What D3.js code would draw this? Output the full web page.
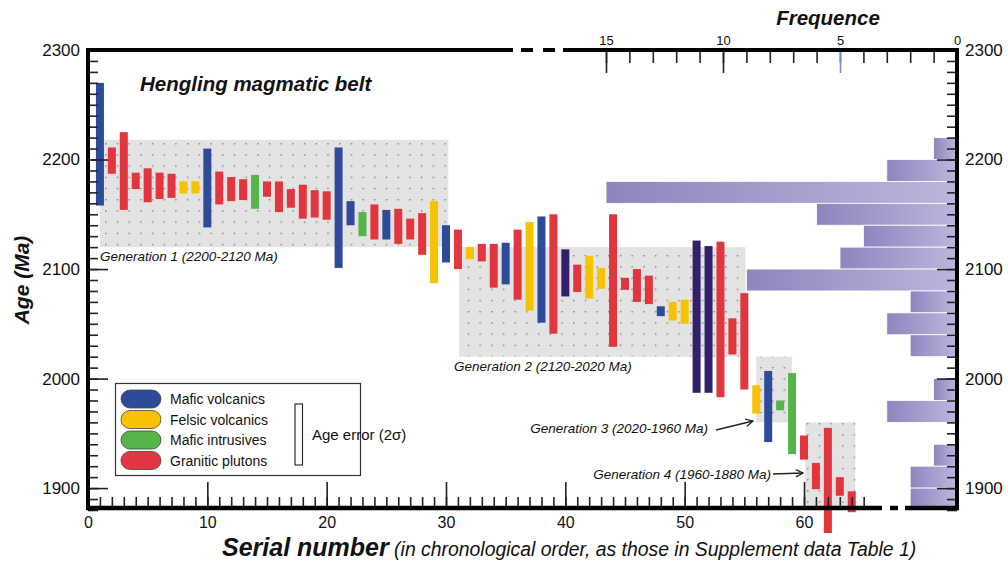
<!DOCTYPE html>
<html>
<head>
<meta charset="utf-8">
<script src="https://cdn.jsdelivr.net/npm/d3@7"></script>
<style>
  body { margin: 0; background: #fff; }
  svg text { font-family: "Liberation Sans", Arial, Helvetica, sans-serif; fill: #111; }
</style>
</head>
<body>
<svg id="chart" width="1008" height="561"></svg>
<script>
// ---- Zircon U-Pb ages, Hengling magmatic belt (serial order as in Supplement Table 1) ----
const serial = [1,2,3,4,5,6,7,8,9,10,11,12,13,14,15,16,17,18,19,20,21,22,23,24,25,26,27,28,29,30,31,32,
                33,34,35,36,37,38,39,40,41,42,43,44,45,46,47,48,49,50,51,52,53,54,55,56,57,58,59,60,61,62,63,64];
// upper / lower limit of each age (2 sigma), Ma
const ageMax = [2270,2211,2225,2188,2192,2188,2187,2180,2180,2210,2189,2184,2182,2186,2180,2180,
                2173,2177,2172,2171,2211,2162,2152,2159,2154,2155,2146,2151,2162,2140,2136,2120,
                2123,2123,2124,2136,2143,2148,2150,2118,2104,2112,2101,2150,2092,2100,2094,2066,
                2070,2072,2126,2121,2125,2055,2078,1994,2007,1980,2005,1948,1923,1955,1910,1897];
const ageMin = [2158,2187,2154,2173,2161,2164,2165,2169,2169,2138,2159,2162,2163,2155,2166,2152,
                2156,2146,2147,2145,2101,2140,2130,2127,2127,2123,2127,2113,2087,2106,2100,2109,
                2107,2083,2086,2072,2062,2051,2041,2075,2079,2073,2082,2029,2081,2070,2068,2057,
                2053,2050,1987,1987,1983,2022,1990,1968,1942,1971,1931,1926,1899,1859,1893,1878];
// MV mafic volcanics, MD mafic volcanics (dark), FV felsic volcanics, MI mafic intrusives, GP granitic plutons
const rockType = ["MV","GP","GP","GP","GP","GP","GP","FV","FV","MV","GP","GP","GP","MI","GP","GP",
                  "GP","GP","GP","GP","MV","MV","MI","GP","MV","GP","GP","GP","FV","MV","GP","FV",
                  "GP","GP","MV","GP","FV","MV","GP","MD","GP","FV","FV","GP","GP","GP","GP","MV",
                  "FV","FV","MD","MD","GP","GP","GP","FV","MV","MI","MI","GP","GP","GP","GP","GP"];

// ---- age histogram (20 Ma bins) ----
const binStart = [2200,2180,2160,2140,2120,2100,2080,2060,2040,2020,2000,1980,1960,1940,1920,1900,1880];
const binCount = [1,3,15,6,4,5,9,2,3,2,0,1,3,0,1,2,2];
const binWidth = 20;

// ---- axes ----
const ageTicks = [1900,2000,2100,2200,2300];
const serialTicks = [0,10,20,30,40,50,60];
const freqTicks = [0,5,10,15];

// ---- generations ----
const genLabels = ["Generation 1 (2200-2120 Ma)","Generation 2 (2120-2020 Ma)",
                   "Generation 3 (2020-1960 Ma)","Generation 4 (1960-1880 Ma)"];
const genSerialFrom = [1.0, 31.1, 56.0, 60.1];
const genSerialTo   = [30.2, 55.1, 59.0, 64.3];
const genAgeLow  = [2120, 2020, 1960, 1880];
const genAgeHigh = [2218, 2120, 2020, 1960];

// ---- legend ----
const legendKeys = ["MV","FV","MI","GP"];
const legendLabels = ["Mafic volcanics","Felsic  volcanics","Mafic intrusives","Granitic plutons"];

const colors = { MV:"#2e4a9b", MD:"#33206b", FV:"#f7c300", MI:"#55b44a", GP:"#e1363f" };

const svg = d3.select("#chart");
const L = 88, R = 957, T = 50, B = 508;

const x = d3.scaleLinear().domain([0, 60]).range([L, 804]);
const y = d3.scaleLinear().domain([1880, 2300]).range([510, T]);
const f = d3.scaleLinear().domain([0, 15]).range([R, 606]);

const defs = svg.append("defs");
const pat = defs.append("pattern").attr("id","dots").attr("patternUnits","userSpaceOnUse")
  .attr("x", 105).attr("y", 143).attr("width", 11.7).attr("height", 11.2);
pat.append("rect").attr("width", 11.7).attr("height", 11.2).attr("fill", "#e3e3e3");
pat.append("circle").attr("cx", 0.8).attr("cy", 0.8).attr("r", 0.75).attr("fill", "#6a6a6a");

const grad = defs.append("linearGradient").attr("id","histGrad")
  .attr("x1","0").attr("x2","1").attr("y1","0").attr("y2","0");
grad.append("stop").attr("offset","0").attr("stop-color","#8d86be");
grad.append("stop").attr("offset","1").attr("stop-color","#bcb6dd");

defs.append("marker").attr("id","arrow").attr("viewBox","0 0 10 10")
  .attr("refX", 9).attr("refY", 5).attr("markerWidth", 9).attr("markerHeight", 9)
  .attr("orient","auto").attr("markerUnits","userSpaceOnUse")
  .append("path").attr("d","M1,1 L9,5 L1,9").attr("fill","none").attr("stroke","#222").attr("stroke-width",1.4);

// generation boxes
svg.append("g").selectAll("rect").data(genLabels).join("rect")
  .attr("x", (d,i) => x(genSerialFrom[i]))
  .attr("width", (d,i) => x(genSerialTo[i]) - x(genSerialFrom[i]))
  .attr("y", (d,i) => y(genAgeHigh[i]))
  .attr("height", (d,i) => Math.min(y(genAgeLow[i]), B) - y(genAgeHigh[i]))
  .attr("fill","url(#dots)");

// histogram
svg.append("g").selectAll("rect").data(binStart).join("rect")
  .filter((d,i) => binCount[i] > 0)
  .attr("x", (d) => f(binCount[binStart.indexOf(d)]))
  .attr("width", d => R - f(binCount[binStart.indexOf(d)]))
  .attr("y", d => y(d + binWidth))
  .attr("height", d => Math.min(y(d), B) - y(d + binWidth))
  .attr("fill","url(#histGrad)")
  .attr("stroke","#fff").attr("stroke-width",0.8);

// age bars
const bw = 8;
svg.append("g").selectAll("rect").data(serial).join("rect")
  .attr("x", (d) => x(d) - bw/2)
  .attr("width", bw)
  .attr("y", (d,i) => y(ageMax[i]))
  .attr("height", (d,i) => y(ageMin[i]) - y(ageMax[i]))
  .attr("fill", (d,i) => colors[rockType[i]]);

// ---- axes ----
function styleAxis(g) {
  g.select(".domain").remove();
  g.selectAll(".tick line").attr("stroke","#222").attr("stroke-width",1.6);
  g.selectAll(".tick text").attr("fill","#111");
}
// left
svg.append("g").attr("transform",`translate(${L},0)`)
  .call(d3.axisLeft(y).tickValues(d3.range(1880, 2301, 10)).tickSize(-10).tickFormat(""))
  .call(styleAxis);
svg.append("g").attr("transform",`translate(${L},0)`)
  .call(d3.axisLeft(y).tickValues(ageTicks).tickSize(-20).tickPadding(8).tickFormat(d3.format("d")))
  .call(styleAxis)
  .call(g => g.selectAll("text").style("font-size","17px"));
// right
svg.append("g").attr("transform",`translate(${R},0)`)
  .call(d3.axisRight(y).tickValues(d3.range(1880, 2301, 10)).tickSize(-10).tickFormat(""))
  .call(styleAxis);
svg.append("g").attr("transform",`translate(${R},0)`)
  .call(d3.axisRight(y).tickValues(ageTicks).tickSize(-20).tickPadding(8).tickFormat(d3.format("d")))
  .call(styleAxis)
  .call(g => g.selectAll("text").style("font-size","17px"));
// bottom
svg.append("g").attr("transform",`translate(0,${B})`)
  .call(d3.axisBottom(x).tickValues(d3.range(0, 66, 1)).tickSize(-11).tickFormat(""))
  .call(styleAxis);
svg.append("g").attr("transform",`translate(0,${B})`)
  .call(d3.axisBottom(x).tickValues(serialTicks).tickSize(-26).tickPadding(9))
  .call(styleAxis)
  .call(g => g.selectAll("text").style("font-size","16px"));
// top (frequency)
svg.append("g").attr("transform",`translate(0,${T})`)
  .call(d3.axisTop(f).tickValues(d3.range(0, 16, 1)).tickSize(-13).tickFormat(""))
  .call(styleAxis);
svg.append("g").attr("transform",`translate(0,${T})`)
  .call(d3.axisTop(f).tickValues(freqTicks).tickSize(-23).tickPadding(5))
  .call(styleAxis)
  .call(g => g.selectAll("text").style("font-size","13px"))
  .call(g => g.selectAll(".tick").filter(d => d === 5).select("line").attr("stroke","#6f93cf"));

// frame lines (broken on top and bottom right)
const frame = svg.append("g").attr("stroke","#000").attr("stroke-width",4).attr("fill","none");
frame.append("line").attr("x1",L).attr("x2",L).attr("y1",T-2).attr("y2",B+2);
frame.append("line").attr("x1",R).attr("x2",R).attr("y1",T-2).attr("y2",B+2);
frame.append("line").attr("x1",L-2).attr("x2",513).attr("y1",T).attr("y2",T);
frame.append("line").attr("x1",521).attr("x2",533).attr("y1",T).attr("y2",T);
frame.append("line").attr("x1",543).attr("x2",555).attr("y1",T).attr("y2",T);
frame.append("line").attr("x1",563).attr("x2",R+2).attr("y1",T).attr("y2",T);
frame.append("line").attr("x1",L-2).attr("x2",882).attr("y1",B).attr("y2",B).attr("stroke-width",4.5);
frame.append("line").attr("x1",890).attr("x2",898).attr("y1",B).attr("y2",B).attr("stroke-width",4.5);
frame.append("line").attr("x1",905).attr("x2",R+2).attr("y1",B).attr("y2",B).attr("stroke-width",4.5);

// ---- titles ----
svg.append("text").attr("x",140).attr("y",91)
  .attr("font-weight","bold").attr("font-style","italic").style("font-size","20.5px")
  .text("Hengling magmatic belt");
svg.append("text").attr("x",828).attr("y",25).attr("text-anchor","middle")
  .attr("font-weight","bold").attr("font-style","italic").style("font-size","20.5px")
  .text("Frequence");
svg.append("text").attr("transform","translate(29,280) rotate(-90)").attr("text-anchor","middle")
  .attr("font-weight","bold").attr("font-style","italic").style("font-size","21px")
  .text("Age (Ma)");
const xt = svg.append("text").attr("x",222).attr("y",556);
xt.append("tspan").attr("font-weight","bold").attr("font-style","italic").style("font-size","25px")
  .text("Serial number");
xt.append("tspan").attr("font-style","italic").style("font-size","19.4px")
  .text(" (in chronological order, as those in Supplement data Table 1)");

// ---- generation labels ----
const gl = svg.append("g").attr("font-style","italic").style("font-size","13.5px");
gl.append("text").attr("x",100).attr("y",261).text(genLabels[0]);
gl.append("text").attr("x",454).attr("y",371).text(genLabels[1]);
gl.append("text").attr("x",708).attr("y",433).attr("text-anchor","end").text(genLabels[2]);
gl.append("text").attr("x",771).attr("y",479).attr("text-anchor","end").text(genLabels[3]);
svg.append("line").attr("x1",716).attr("y1",430).attr("x2",753).attr("y2",421)
  .attr("stroke","#222").attr("stroke-width",1.4).attr("marker-end","url(#arrow)");
svg.append("line").attr("x1",773).attr("y1",474).attr("x2",803).attr("y2",473)
  .attr("stroke","#222").attr("stroke-width",1.4).attr("marker-end","url(#arrow)");

// ---- legend ----
const lg = svg.append("g");
lg.append("rect").attr("x",115.5).attr("y",383.5).attr("width",245).attr("height",92)
  .attr("fill","#fff").attr("stroke","#333").attr("stroke-width",1.2);
const item = lg.selectAll("g.item").data(legendKeys).join("g").attr("class","item")
  .attr("transform",(d,i) => `translate(0,${399 + i*20.5})`);
item.append("rect").attr("x",121).attr("y",-9).attr("width",40).attr("height",18)
  .attr("rx",9).attr("ry",9).attr("fill",d => colors[d]).attr("stroke","#444").attr("stroke-width",0.8);
item.append("text").attr("x",170).attr("y",5).style("font-size","14px")
  .text((d,i) => legendLabels[i]);
lg.append("rect").attr("x",295).attr("y",404).attr("width",7.5).attr("height",61)
  .attr("fill","#fff").attr("stroke","#222").attr("stroke-width",1.1);
lg.append("text").attr("x",312).attr("y",440).style("font-size","15px").text("Age error (2σ)");
</script>
</body>
</html>
